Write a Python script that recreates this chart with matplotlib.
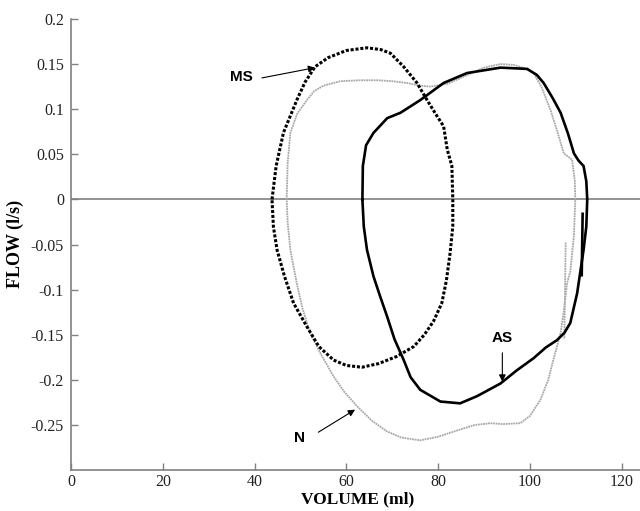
import numpy as np
import matplotlib.pyplot as plt

# data
ms_vol = [43.8, 44.7, 46.3, 49.2, 51.0, 53.2, 56.0, 60.0, 64.5, 67.5, 69.6, 72.5, 75.4, 77.6,
          79.8, 81.2, 82.0, 83.0, 83.2, 83.2, 82.6, 81.8, 80.8, 79.0, 77.0, 74.7, 71.0, 67.0,
          63.4, 60.0, 57.2, 54.0, 51.4, 48.5, 46.5, 44.9, 44.1, 43.8]
ms_flow = [0.0, 0.037, 0.074, 0.110, 0.130, 0.147, 0.157, 0.165, 0.168, 0.166, 0.162, 0.147,
           0.129, 0.110, 0.092, 0.081, 0.055, 0.037, 0.0, -0.03, -0.06, -0.09, -0.115, -0.135,
           -0.150, -0.163, -0.174, -0.182, -0.186, -0.184, -0.178, -0.163, -0.141, -0.115,
           -0.085, -0.056, -0.03, 0.0]

n_vol = [47.0, 47.2, 47.8, 49.3, 51.4, 53.0, 55.0, 58.7, 63.0, 67.0, 70.0, 73.2, 76.0, 78.3,
         82.0, 86.0, 90.0, 93.6, 96.5, 99.0, 100.8, 102.5, 104.5, 106.0, 107.4, 109.2, 109.8,
         109.9, 109.6, 108.8, 108.1, 107.5, 106.7, 105.1, 104.0, 102.3, 100.0, 97.9, 94.0,
         91.4, 88.0, 84.8, 80.0, 76.1, 72.0, 68.8, 65.5, 62.3, 59.5, 57.2, 54.5, 52.1, 50.4,
         49.2, 47.8, 47.2, 47.0]
n_flow = [0.0, 0.04, 0.074, 0.095, 0.110, 0.120, 0.126, 0.131, 0.132, 0.132, 0.131, 0.129,
          0.126, 0.125, 0.128, 0.137, 0.146, 0.150, 0.149, 0.145, 0.140, 0.125, 0.099, 0.075,
          0.051, 0.044, 0.02, 0.0, -0.04, -0.08, -0.093, -0.12, -0.148, -0.178, -0.200,
          -0.222, -0.240, -0.248, -0.249, -0.248, -0.250, -0.255, -0.263, -0.267, -0.264,
          -0.257, -0.245, -0.229, -0.213, -0.196, -0.172, -0.148, -0.120, -0.093, -0.056,
          -0.025, 0.0]

as_vol = [63.5, 63.6, 64.3, 65.9, 68.9, 71.8, 76.1, 81.2, 86.3, 93.6, 99.4, 101.5, 103.0,
          105.0, 106.7, 108.3, 109.6, 110.6, 111.7, 112.3, 112.5, 112.3, 111.7, 111.0, 110.3,
          108.8, 107.5, 105.9, 103.5, 100.8, 97.0, 93.6, 88.5, 84.8, 80.5, 76.1, 74.0, 72.5,
          70.5, 68.9, 67.2, 65.9, 64.5, 63.8, 63.5]
as_flow = [0.0, 0.037, 0.060, 0.0736, 0.090, 0.096, 0.110, 0.129, 0.140, 0.146, 0.1446, 0.138,
           0.129, 0.112, 0.096, 0.073, 0.051, 0.043, 0.037, 0.02, 0.0, -0.03, -0.056, -0.08,
           -0.104, -0.137, -0.148, -0.156, -0.164, -0.176, -0.190, -0.204, -0.218, -0.226,
           -0.224, -0.211, -0.197, -0.178, -0.155, -0.130, -0.105, -0.085, -0.056, -0.03, 0.0]

# short leftover traces near the right edge
as_tail_vol = [111.5, 111.3]
as_tail_flow = [-0.016, -0.084]
n_tail_vol = [107.8, 107.5]
n_tail_flow = [-0.048, -0.155]

xticks = [0, 20, 40, 60, 80, 100, 120]
yticks = [-0.25, -0.2, -0.15, -0.1, -0.05, 0, 0.05, 0.1, 0.15, 0.2]
ytick_labels = ['-0.25', '-0.2', '-0.15', '-0.1', '-0.05', '0', '0.05', '0.1', '0.15', '0.2']

fig = plt.figure(figsize=(6.4, 5.11), dpi=100)
ax = fig.add_axes([0.111, 0.080, 0.889, 0.883])

gray = '#808080'
ax.axhline(0, color=gray, lw=1.2, zorder=1)

ax.plot(n_vol, n_flow, color='#a8a8a8', lw=1.3, linestyle=(0, (1, 0.4)), zorder=2)
ax.plot(n_tail_vol, n_tail_flow, color='#a8a8a8', lw=1.3, linestyle=(0, (1, 0.4)), zorder=2)
ax.plot(ms_vol, ms_flow, color='black', lw=2.2, linestyle=(0, (1, 0.6)), zorder=3)
ax.plot(as_vol, as_flow, color='black', lw=1.9, zorder=4)
ax.plot(as_tail_vol, as_tail_flow, color='black', lw=1.9, zorder=4)

arrow = dict(arrowstyle='-|>', color='black', lw=0.8, mutation_scale=10, shrinkA=0, shrinkB=0)
lab = dict(fontsize=11, fontweight='bold', family='Liberation Sans', va='center', ha='center')
ax.annotate('', xy=(53.2, 0.146), xytext=(41.6, 0.1346), arrowprops=arrow)
ax.text(37.2, 0.136, 'MS', **lab)
ax.annotate('', xy=(94.0, -0.202), xytext=(94.0, -0.170), arrowprops=arrow)
ax.text(93.9, -0.154, 'AS', **lab)
ax.annotate('', xy=(61.9, -0.233), xytext=(53.9, -0.258), arrowprops=arrow)
ax.text(49.8, -0.264, 'N', **lab)

ax.set_xlim(0, 124)
ax.set_ylim(-0.3, 0.2)
ax.set_xticks(xticks)
ax.set_yticks(yticks)
ax.set_yticklabels(ytick_labels)
for s in ['top', 'right']:
    ax.spines[s].set_visible(False)
for s in ['left', 'bottom']:
    ax.spines[s].set_color(gray)
    ax.spines[s].set_linewidth(1.2)
ax.tick_params(direction='in', length=5, width=1, color=gray, labelsize=11.5)
ax.tick_params(axis='x', pad=3)
ax.tick_params(axis='y', pad=5)
for t in ax.get_xticklabels() + ax.get_yticklabels():
    t.set_family('Liberation Serif')
    t.set_color('#222222')

ax.set_xlabel('VOLUME (ml)', family='Liberation Serif', fontweight='bold', fontsize=12.5)
ax.set_ylabel('FLOW (l/s)', family='Liberation Serif', fontweight='bold', fontsize=13)
ax.xaxis.set_label_coords(0.503, -0.047)
ax.yaxis.set_label_coords(-0.083, 0.501)

fig.savefig('out.png', dpi=100)
